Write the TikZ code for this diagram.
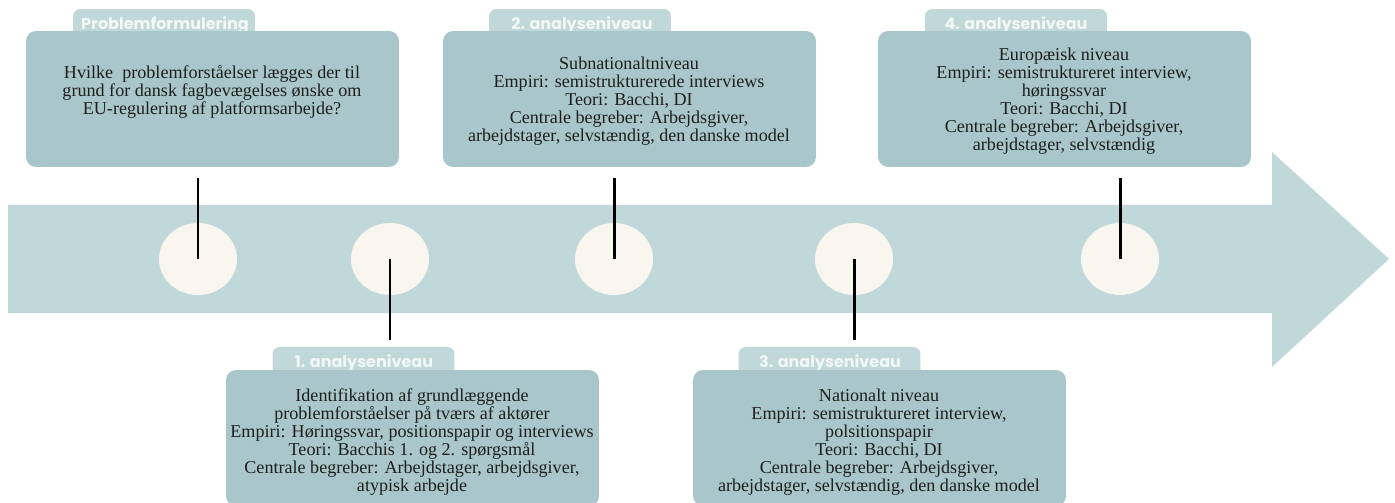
\documentclass[tikz,border=0pt]{standalone}
\usepackage{fontspec}
\setmainfont{Liberation Serif}
\newfontfamily\tabfont{Poppins}
\usetikzlibrary{shapes.geometric}
\definecolor{arrowc}{HTML}{C0D8DA}
\definecolor{boxc}{HTML}{A9C7CA}
\definecolor{tabc}{HTML}{C0D8DA}
\definecolor{dotc}{HTML}{F9F6F0}
\definecolor{txtc}{HTML}{1E1E1E}
\definecolor{tabtc}{HTML}{F2F7F7}
\begin{document}
\begin{tikzpicture}[x=0.02cm,y=-0.02cm,
  box/.style={fill=boxc, rounded corners=0.2cm, minimum width=7.46cm, minimum height=2.72cm, inner sep=0},
  tab/.style={fill=tabc, rounded corners=0.14cm, minimum width=3.64cm, minimum height=0.72cm, inner sep=0},
  tabtxt/.style={font=\tabfont\bfseries\fontsize{9.1}{10}\selectfont, text=tabtc, anchor=base, inner sep=0},
  bodytxt/.style={font=\fontsize{10.3}{10.2}\selectfont, text=txtc, align=center, inner sep=0},
  dot/.style={ellipse, fill=dotc, minimum width=1.56cm, minimum height=1.44cm, inner sep=0},
  stem/.style={line width=1.7pt, black}]
\useasboundingbox (0,0) rectangle (1395,503);
\clip (0,0) rectangle (1395,503);
% big arrow
\fill[arrowc] (8,205) -- (1272,205) -- (1272,152) -- (1389,259) -- (1272,367) -- (1272,313) -- (8,313) -- cycle;
% dots
\node[dot] (e1) at (198,259) {};
\node[dot] (e2) at (390,259) {};
\node[dot] (e3) at (614,259) {};
\node[dot] (e4) at (854,259) {};
\node[dot] (e5) at (1120,259) {};
% stem ends
\coordinate (s1) at (198,178);
\coordinate (s2) at (390,340);
\coordinate (s3) at (614,178);
\coordinate (s4) at (854,340);
\coordinate (s5) at (1120,178);
\draw[stem] (e1.center) -- (s1);
\draw[stem] (e2.center) -- (s2);
\draw[stem] (e3.center) -- (s3);
\draw[stem] (e4.center) -- (s4);
\draw[stem] (e5.center) -- (s5);
% tabs
\node[tab] (tpf) at (164,27) {};
\node[tab] (t2) at (580,27) {};
\node[tab] (t4) at (1016,27) {};
\node[tab] (t1) at (363.5,365) {};
\node[tab] (t3) at (829.5,365) {};
\node[tabtxt] (tpfl) at (165,29.5) {Problemformulering};
\node[tabtxt] (t2l) at (582,29.5) {2. analyseniveau};
\node[tabtxt] (t4l) at (1016,29.5) {4. analyseniveau};
\node[tabtxt] (t1l) at (364,367.5) {1. analyseniveau};
\node[tabtxt] (t3l) at (830,367.5) {3. analyseniveau};
% boxes
\node[box] (bpf) at (212.5,99) {};
\node[box] (b2) at (629.5,99) {};
\node[box] (b4) at (1064.5,99) {};
\node[box] (b1) at (412.5,438) {};
\node[box] (b3) at (879.5,438) {};
% texts
\node[bodytxt] (bpft) at (212,92) {Hvilke\ \ problemforståelser lægges der til\\grund for dansk fagbevægelses ønske om\\EU-regulering af platformsarbejde?};
\node[bodytxt] (b2t) at (629,101) {Subnationaltniveau\\Empiri: semistrukturerede interviews\\Teori: Bacchi, DI\\Centrale begreber: Arbejdsgiver,\\arbejdstager, selvstændig, den danske model};
\node[bodytxt] (b4t) at (1064,101) {Europæisk niveau\\Empiri: semistruktureret interview,\\høringssvar\\Teori: Bacchi, DI\\Centrale begreber: Arbejdsgiver,\\arbejdstager, selvstændig};
\node[bodytxt] (b1t) at (412,442) {Identifikation af grundlæggende\\problemforståelser på tværs af aktører\\Empiri: Høringssvar, positionspapir og interviews\\Teori: Bacchis 1. og 2. spørgsmål\\Centrale begreber: Arbejdstager, arbejdsgiver,\\atypisk arbejde};
\node[bodytxt] (b3t) at (879,442) {Nationalt niveau\\Empiri: semistruktureret interview,\\polsitionspapir\\Teori: Bacchi, DI\\Centrale begreber: Arbejdsgiver,\\arbejdstager, selvstændig, den danske model};
\end{tikzpicture}
\end{document}
